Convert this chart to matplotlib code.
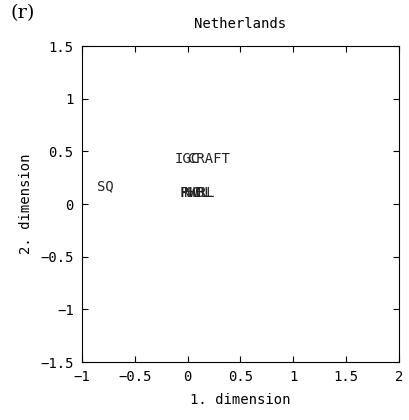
import matplotlib
matplotlib.use("Agg")
import matplotlib.pyplot as plt

# item labels and their positions in the 2-D scaling solution
LABELS = ["SQ", "IGC", "CRAFT", "PHBL", "RWRL", "NOL"]
DIM1 = [-0.86, -0.125, 0.0, -0.08, -0.06, -0.03]
DIM2 = [0.17, 0.43, 0.43, 0.11, 0.11, 0.11]

XTICKS = [-1, -0.5, 0, 0.5, 1, 1.5, 2]
YTICKS = [-1.5, -1, -0.5, 0, 0.5, 1, 1.5]
MONO = "DejaVu Sans Mono"

fig = plt.figure(figsize=(4.09, 4.20), dpi=100)
ax = fig.add_axes([0.2005, 0.138, 0.775, 0.752])

for lab, x, y in zip(LABELS, DIM1, DIM2):
    ax.text(x, y, lab, fontsize=10, family=MONO, ha="left", va="center", color="#222222")

ax.set_xlim(-1, 2)
ax.set_ylim(-1.5, 1.5)
ax.set_xticks(XTICKS, [f"{t:g}".replace("-", "\u2212") for t in XTICKS], family=MONO, fontsize=10)
ax.set_yticks(YTICKS, [f"{t:g}".replace("-", "\u2212") for t in YTICKS], family=MONO, fontsize=10)
ax.tick_params(direction="in", top=True, right=True, length=4, width=0.8, pad=6)
for s in ax.spines.values():
    s.set_linewidth(0.8)
ax.set_xlabel("1. dimension", family=MONO, fontsize=10, labelpad=6)
ax.set_ylabel("2. dimension", family=MONO, fontsize=10, labelpad=5)
ax.set_title("Netherlands", family=MONO, fontsize=10, pad=13)
fig.text(0.025, 0.99, "(r)", family="DejaVu Serif", fontsize=14, va="top", ha="left")

fig.savefig("out.png", dpi=100)
